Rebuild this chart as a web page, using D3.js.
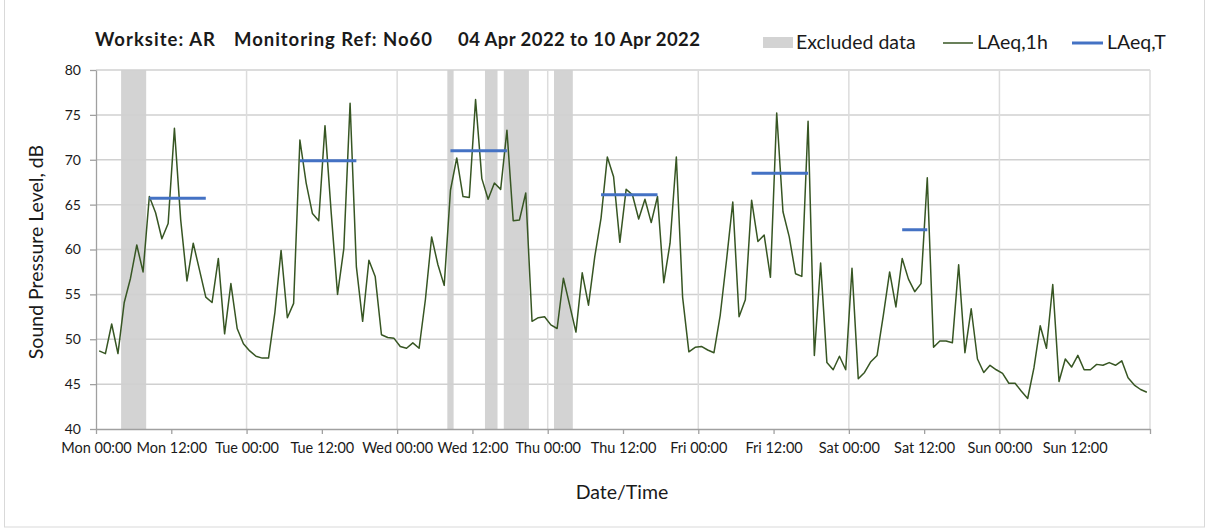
<!DOCTYPE html>
<html>
<head>
<meta charset="utf-8">
<script src="https://cdn.jsdelivr.net/npm/d3@7"></script>
<style>
  body { margin: 0; background: #fff; }
  svg text { font-family: Lato, "Open Sans", sans-serif; fill: #1a1a1a; }
</style>
</head>
<body>
<div id="chart"></div>
<script>
// hourly LAeq,1h values, Mon 00:00 .. Sun 23:00
const laeq1h = [
  48.7, 48.4, 51.7, 48.4, 54.1, 56.8, 60.5, 57.5, 65.9, 64.1, 61.2, 62.9,
  73.5, 63.3, 56.5, 60.7, 57.7, 54.7, 54.1, 59.0, 50.6, 56.2, 51.2, 49.5,
  48.7, 48.1, 47.9, 47.9, 52.9, 59.9, 52.4, 54.0, 72.2, 67.4, 64.0, 63.2,
  73.8, 64.0, 55.0, 60.1, 76.3, 58.1, 52.0, 58.8, 57.0, 50.5, 50.2, 50.1,
  49.2, 49.0, 49.6, 49.0, 54.4, 61.4, 58.3, 56.0, 66.6, 70.2, 65.9, 65.8,
  76.7, 67.9, 65.6, 67.4, 66.7, 73.3, 63.2, 63.3, 66.3, 52.0, 52.4, 52.5,
  51.6, 51.2, 56.8, 53.8, 50.8, 57.4, 53.8, 59.2, 63.5, 70.3, 68.1, 60.8,
  66.7, 66.1, 63.4, 65.6, 63.0, 65.9, 56.3, 60.7, 70.3, 54.7, 48.6, 49.1,
  49.2, 48.8, 48.5, 52.7, 58.8, 65.3, 52.5, 54.4, 65.5, 60.9, 61.6, 56.9,
  75.2, 64.2, 61.4, 57.3, 57.0, 74.3, 48.2, 58.5, 47.4, 46.6, 48.1, 46.6,
  57.9, 45.6, 46.3, 47.5, 48.2, 52.7, 57.5, 53.6, 59.0, 56.7, 55.3, 56.2,
  68.0, 49.1, 49.8, 49.8, 49.6, 58.3, 48.5, 53.4, 47.8, 46.3, 47.1, 46.6,
  46.2, 45.1, 45.1, 44.2, 43.4, 46.8, 51.5, 49.0, 56.1, 45.3, 47.8, 46.9,
  48.2, 46.6, 46.6, 47.2, 47.1, 47.4, 47.1, 47.6, 45.7, 44.9, 44.4, 44.1
];

// excluded periods, hours from Mon 00:00 [start, end]
const excluded = [[4, 8], [56, 57], [62, 64], [65, 69], [73, 76]];

// LAeq,T periods: first hour, last hour, level
const laeqTStart = [8, 32, 56, 80, 104, 128];
const laeqTEnd   = [17, 41, 65, 89, 113, 132];
const laeqTValue = [65.7, 69.9, 71.0, 66.1, 68.5, 62.2];

const xTickLabels = ['Mon 00:00', 'Mon 12:00', 'Tue 00:00', 'Tue 12:00', 'Wed 00:00',
  'Wed 12:00', 'Thu 00:00', 'Thu 12:00', 'Fri 00:00', 'Fri 12:00', 'Sat 00:00',
  'Sat 12:00', 'Sun 00:00', 'Sun 12:00', ''];
const yTicks = [40, 45, 50, 55, 60, 65, 70, 75, 80];

const width = 1208, height = 530;
const plotL = 96, plotR = 1150, plotT = 70, plotB = 429;

const svg = d3.select('#chart').append('svg')
  .attr('width', width).attr('height', height);

// outer frame
svg.append('rect')
  .attr('x', 4.5).attr('y', -1).attr('width', 1200).attr('height', 528)
  .attr('fill', 'none').attr('stroke', '#d9d9d9');

const x = d3.scaleLinear().domain([0, 168]).range([plotL, plotR]);
const y = d3.scaleLinear().domain([40, 80]).range([plotB, plotT]);

// excluded data bands
svg.append('g').selectAll('rect').data(excluded).join('rect')
  .attr('x', d => x(d[0])).attr('width', d => x(d[1]) - x(d[0]))
  .attr('y', plotT).attr('height', plotB - plotT)
  .attr('fill', '#d3d3d3');

// gridlines
svg.append('g').selectAll('line').data(yTicks.slice(1)).join('line')
  .attr('x1', plotL).attr('x2', plotR)
  .attr('y1', d => y(d)).attr('y2', d => y(d))
  .attr('stroke', '#d0d0d0').attr('stroke-width', 1.5);
svg.append('g').selectAll('line').data(d3.range(24, 169, 24)).join('line')
  .attr('x1', d => x(d)).attr('x2', d => x(d))
  .attr('y1', plotT).attr('y2', plotB)
  .attr('stroke', '#dcdcdc').attr('stroke-width', 1.5);

// axes
const xAxis = svg.append('g')
  .attr('transform', `translate(0,${plotB})`)
  .call(d3.axisBottom(x).tickValues(d3.range(0, 169, 12))
    .tickFormat((d, i) => xTickLabels[i]).tickSize(5).tickPadding(9).tickSizeOuter(0));
xAxis.selectAll('text').attr('font-size', 14.5);

const yAxis = svg.append('g')
  .attr('transform', `translate(${plotL},0)`)
  .call(d3.axisLeft(y).tickValues(yTicks).tickSize(6).tickPadding(9).tickSizeOuter(0));
yAxis.selectAll('text').attr('font-size', 14);

svg.selectAll('.domain, .tick line').attr('stroke', '#a0a0a0').attr('stroke-width', 1.3);

// LAeq,1h line
const line = d3.line().x((d, i) => x(i + 0.5)).y(d => y(d));
svg.append('path').datum(laeq1h)
  .attr('d', line)
  .attr('fill', 'none').attr('stroke', '#375623').attr('stroke-width', 1.5)
  .attr('stroke-linejoin', 'round');

// LAeq,T segments
svg.append('g').selectAll('line').data(laeqTValue).join('line')
  .attr('x1', (d, i) => x(laeqTStart[i] + 0.5))
  .attr('x2', (d, i) => x(laeqTEnd[i] + 0.5))
  .attr('y1', d => y(d)).attr('y2', d => y(d))
  .attr('stroke', '#4472c4').attr('stroke-width', 3);

// title
const title = svg.append('g').attr('font-weight', 'bold').attr('font-size', 18.5);
title.append('text').attr('x', 95).attr('y', 46).attr('textLength', 120).text('Worksite: AR');
title.append('text').attr('x', 234).attr('y', 46).attr('textLength', 198).text('Monitoring Ref: No60');
title.append('text').attr('x', 458).attr('y', 46).attr('textLength', 242).text('04 Apr 2022 to 10 Apr 2022');

// legend
const legend = svg.append('g').attr('font-size', 19.5);
legend.append('rect').attr('x', 763).attr('y', 37).attr('width', 30).attr('height', 11).attr('fill', '#d3d3d3');
legend.append('text').attr('x', 796).attr('y', 49).text('Excluded data');
legend.append('line').attr('x1', 943).attr('x2', 973).attr('y1', 43).attr('y2', 43)
  .attr('stroke', '#375623').attr('stroke-width', 1.5);
legend.append('text').attr('x', 977).attr('y', 49).text('LAeq,1h');
legend.append('line').attr('x1', 1072).attr('x2', 1103).attr('y1', 43).attr('y2', 43)
  .attr('stroke', '#4472c4').attr('stroke-width', 3);
legend.append('text').attr('x', 1107).attr('y', 49).text('LAeq,T');

// axis titles
svg.append('text').attr('x', 622).attr('y', 499).attr('text-anchor', 'middle')
  .attr('font-size', 19.5).text('Date/Time');
svg.append('text').attr('transform', 'translate(43,252) rotate(-90)')
  .attr('text-anchor', 'middle').attr('font-size', 19.5).text('Sound Pressure Level, dB');
</script>
</body>
</html>
